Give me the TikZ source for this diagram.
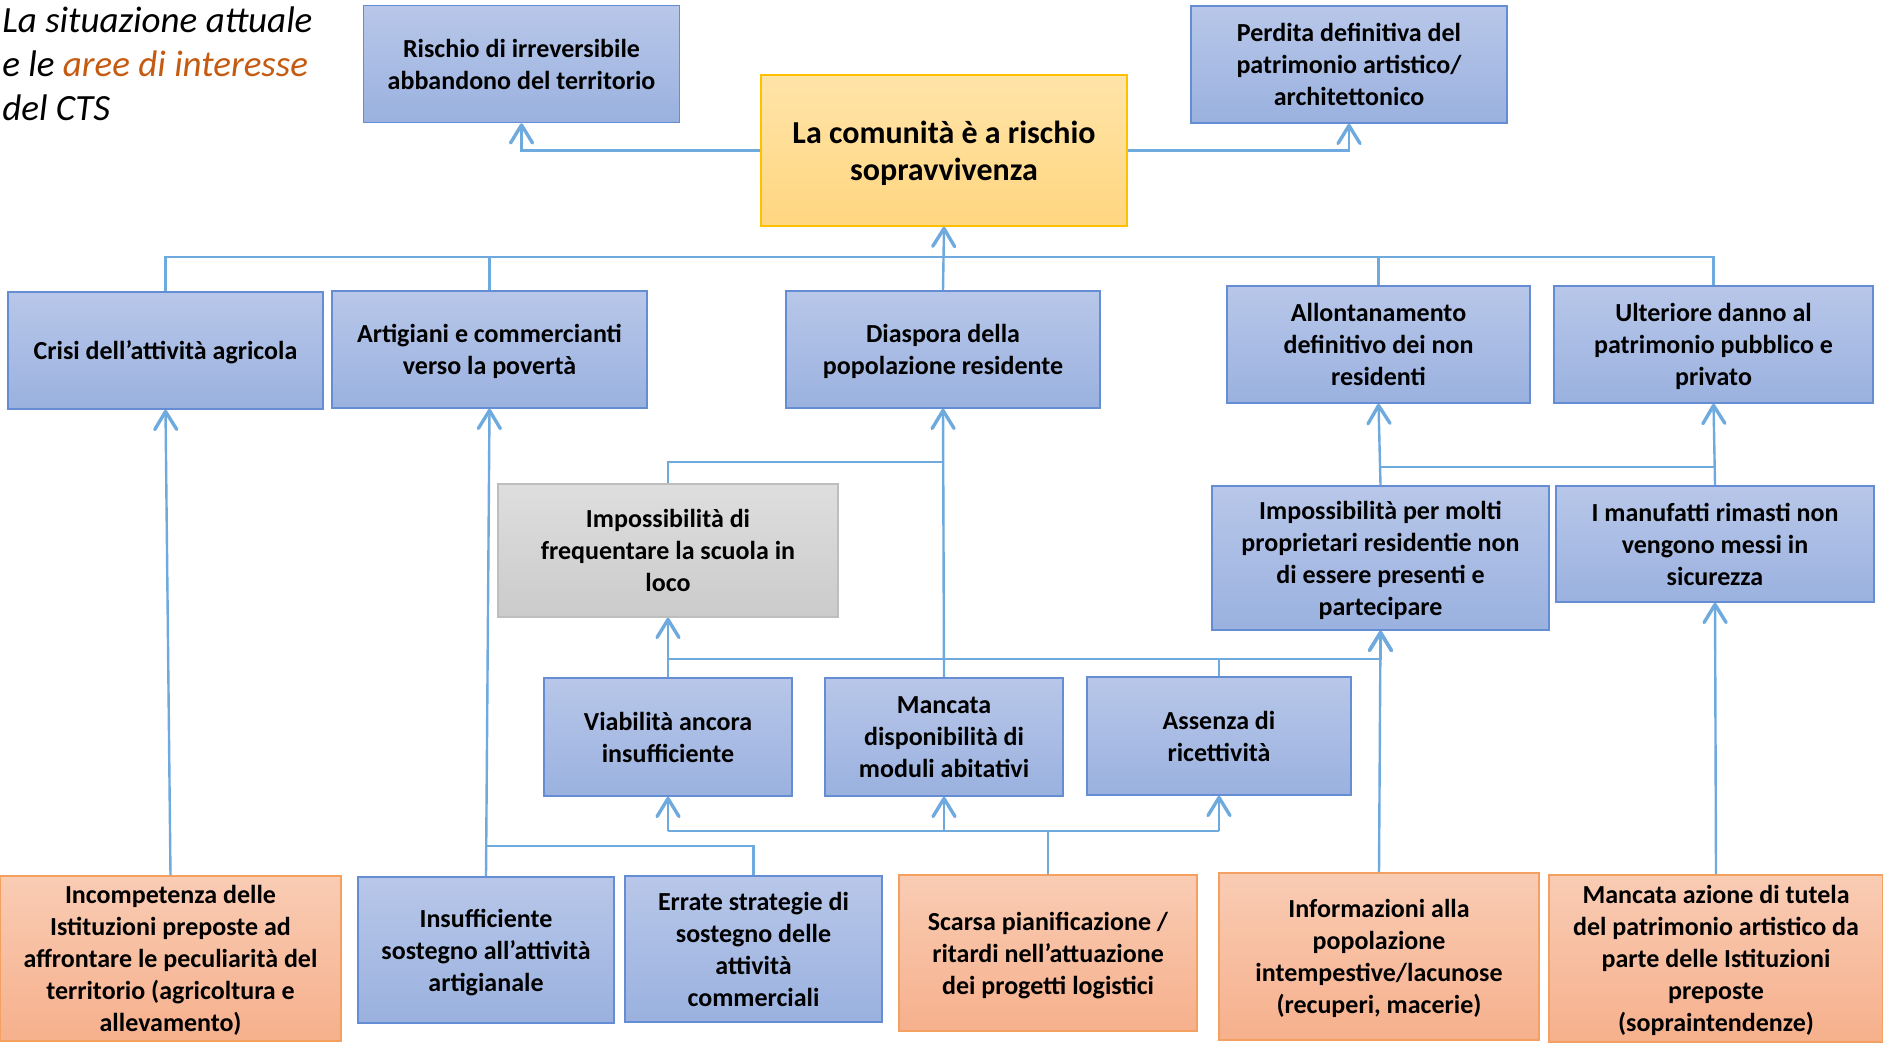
\documentclass[tikz,border=0pt]{standalone}
\usepackage{fontspec}
\setmainfont{Carlito}
\usetikzlibrary{arrows.meta}

\definecolor{bluetop}{RGB}{184,199,233}
\definecolor{bluebot}{RGB}{154,177,223}
\definecolor{blueline}{RGB}{100,141,212}
\definecolor{yellowtop}{RGB}{255,228,168}
\definecolor{yellowbot}{RGB}{255,214,128}
\definecolor{yellowline}{RGB}{255,192,0}
\definecolor{orangetop}{RGB}{249,204,180}
\definecolor{orangebot}{RGB}{246,176,140}
\definecolor{orangeline}{RGB}{244,160,96}
\definecolor{graytop}{RGB}{222,222,222}
\definecolor{graybot}{RGB}{203,203,203}
\definecolor{grayline}{RGB}{190,190,190}
\definecolor{linkblue}{RGB}{111,170,222}
\definecolor{titleorange}{RGB}{197,90,17}

\tikzset{
  box/.style={rectangle, inner sep=2pt, align=center, line width=0.8pt,
    font=\fontsize{13}{16}\selectfont\bfseries, text depth=-2.8pt},
  bluebox/.style={box, draw=blueline, top color=bluetop, bottom color=bluebot},
  yellowbox/.style={box, draw=yellowline, top color=yellowtop, bottom color=yellowbot,
    font=\fontsize{16}{18.5}\selectfont\bfseries, text depth=-3.2pt},
  orangebox/.style={box, draw=orangeline, top color=orangetop, bottom color=orangebot},
  graybox/.style={box, draw=grayline, top color=graytop, bottom color=graybot},
  wh/.style 2 args={minimum width=#1*0.5pt, minimum height=#2*0.5pt},
  conn/.style={draw=linkblue, line width=1.2pt},
  arr/.style={conn, -{Straight Barb[length=9pt, width=11pt, line width=1.7pt, round]}},
}

\begin{document}
\begin{tikzpicture}[x=0.5pt, y=-0.5pt]
  \useasboundingbox (0,0) rectangle (1883,1044);

  % Titre
  \node[anchor=west, align=left, inner sep=0pt, font=\fontsize{18.5}{22}\selectfont\itshape]
    (titolo) at (2,64) {La situazione attuale\\e le \textcolor{titleorange}{aree di interesse}\\del CTS};

  % Niveau haut
  \node[bluebox, wh={316}{117}] (rischio) at (521.5,64) {Rischio di irreversibile\\abbandono del territorio};
  \node[yellowbox, wh={366}{151}] (comunita) at (944,150.5) {La comunità è a rischio\\sopravvivenza};
  \node[bluebox, wh={316}{117}] (perdita) at (1349,64.5) {Perdita definitiva del\\patrimonio artistico/\\architettonico};

  % Deuxième niveau
  \node[bluebox, wh={315}{117}] (crisi) at (165.5,350.5) {Crisi dell’attività agricola};
  \node[bluebox, wh={315}{117}] (artigiani) at (489.5,349.5) {Artigiani e commercianti\\verso la povertà};
  \node[bluebox, wh={314}{117}] (diaspora) at (943,349.5) {Diaspora della\\popolazione residente};
  \node[bluebox, wh={303}{117}] (allontan) at (1378.5,344.5) {Allontanamento\\definitivo dei non\\residenti};
  \node[bluebox, wh={319}{117}] (ulteriore) at (1713.5,344.5) {Ulteriore danno al\\patrimonio pubblico e\\privato};

  % Troisième niveau
  \node[graybox, wh={340}{133}] (scuola) at (668,550.5) {Impossibilità di\\frequentare la scuola in\\loco};
  \node[bluebox, wh={337}{144}] (impossib) at (1380.5,558) {Impossibilità per molti\\proprietari residentie non\\di essere presenti e\\partecipare};
  \node[bluebox, wh={318}{116}] (manufatti) at (1715,544) {I manufatti rimasti non\\vengono messi in\\sicurezza};

  % Quatrième niveau
  \node[bluebox, wh={248}{118}] (viab) at (668,737) {Viabilità ancora\\insufficiente};
  \node[bluebox, wh={238}{118}] (mancata) at (944,737) {Mancata\\disponibilità di\\moduli abitativi};
  \node[bluebox, wh={264}{118}] (assenza) at (1219,736) {Assenza di\\ricettività};

  % Causes (en bas)
  \node[orangebox, wh={341}{165}] (incomp) at (170.5,958.5) {Incompetenza delle\\Istituzioni preposte ad\\affrontare le peculiarità del\\territorio (agricoltura e\\allevamento)};
  \node[bluebox, wh={256}{146}] (insuff) at (486,950) {Insufficiente\\sostegno all’attività\\artigianale};
  \node[bluebox, wh={257}{146}] (errate) at (753.5,949) {Errate strategie di\\sostegno delle\\attività\\commerciali};
  \node[orangebox, wh={298}{156}] (scarsa) at (1048,953) {Scarsa pianificazione /\\ritardi nell’attuazione\\dei progetti logistici};
  \node[orangebox, wh={320}{167}] (inform) at (1379,956.5) {Informazioni alla\\popolazione\\intempestive/lacunose\\(recuperi, macerie)};
  \node[orangebox, wh={334}{167}] (azione) at (1716,958.5) {Mancata azione di tutela\\del patrimonio artistico da\\parte delle Istituzioni\\preposte\\(sopraintendenze)};

  % Barres horizontales
  \coordinate (bus) at (0,257);
  \coordinate (sbar) at (0,462);
  \coordinate (mbar) at (0,467);
  \coordinate (vbar) at (0,659);
  \coordinate (sbus) at (0,831);
  \coordinate (ebar) at (0,846);

  % Liens vers le sommet
  \draw[arr] (comunita.west) -| (rischio.south);
  \draw[arr] (comunita.east) -| (perdita.south);
  \draw[conn] (crisi.north) |- (bus -| ulteriore.north) -- (ulteriore.north);
  \draw[conn] (artigiani.north) -- (artigiani.north |- bus);
  \draw[conn] (allontan.north) -- (allontan.north |- bus);
  \draw[arr] (diaspora.north) -- (comunita.south);

  % Liens du troisième niveau
  \draw[conn] (scuola.north) |- (sbar -| mancata.north);
  \draw[arr] (mancata.north) -- (diaspora.south);
  \draw[arr] (impossib.north) -- (allontan.south);
  \draw[arr] (manufatti.north) -- (ulteriore.south);
  \draw[conn] (impossib.north |- mbar) -- (manufatti.north |- mbar);

  % Liens du quatrième niveau
  \draw[arr] (viab.north) -- (scuola.south);
  \draw[arr] (viab.north |- vbar) -| (impossib.south);
  \draw[conn] (assenza.north) -- (assenza.north |- vbar);

  % Liens des causes
  \draw[conn] (scarsa.north) -- (scarsa.north |- sbus);
  \draw[conn] (viab.south |- sbus) -- (assenza.south |- sbus);
  \foreach \n in {viab,mancata,assenza}
    \draw[arr] (\n.south |- sbus) -- (\n.south);
  \draw[arr] (incomp.north) -- (crisi.south);
  \draw[arr] (insuff.north) -- (artigiani.south);
  \draw[conn] (errate.north) |- (ebar -| insuff.north);
  \draw[arr] (inform.north) -- (impossib.south);
  \draw[arr] (azione.north) -- (manufatti.south);
\end{tikzpicture}
\end{document}
